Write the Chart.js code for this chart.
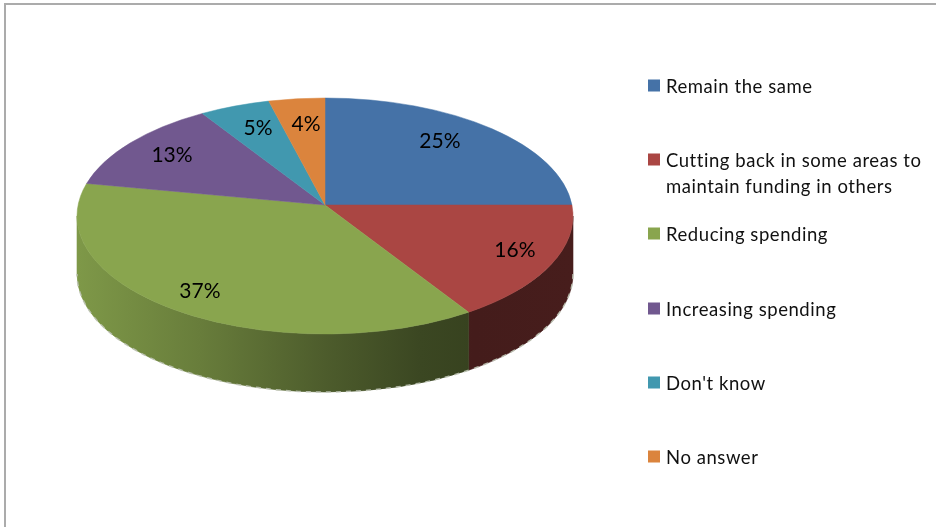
<!DOCTYPE html>
<html><head><meta charset="utf-8">
<style>html,body{margin:0;padding:0;background:#fff}canvas{display:block}</style>
<script src="https://cdn.jsdelivr.net/npm/chart.js@4"></script>
</head><body><canvas id="c" width="936" height="527"></canvas>
<script>
const categories = ["Remain the same", "Cutting back in some areas to maintain funding in others", "Reducing spending", "Increasing spending", "Don't know", "No answer"];
const values = [25, 16, 37, 13, 5, 4];
const colors = ["#4572A7", "#AA4643", "#89A54E", "#71588F", "#4198AF", "#DB843D"];
const legendLines = [["Remain the same"], ["Cutting back in some areas to", "maintain funding in others"], ["Reducing spending"], ["Increasing spending"], ["Don't know"], ["No answer"]];
const legendRows = [87, 161, 235, 310, 384, 458];
const labelRadial = [0.757, 0.83, 0.835, 0.784, 0.758, 0.745];
const labelTurn = [-4.6, -2.3, 0.4, 0.4, 1.0, 0.9];

// Perspective view of the pie: a circle seen through a projection, so the
// apex (CX, APEX_Y) sits above the centre of the drawn ellipse (CX, ELL_Y).
const CX = 325, APEX_Y = 205, ELL_Y = 216, RX = 248, RY = 118, DEPTH = 58;
const K = -22 / 236, A = RX * Math.sqrt(1 - K * K), B = RY * (1 - K * K);
const FONT = "Lato, 'Open Sans', sans-serif";
const shadeStops = [[78, .92], [200, .76], [325, .56], [420, .43], [475, .40], [572, .42]];

function rgb(hex) { return [1, 3, 5].map(i => parseInt(hex.substr(i, 2), 16)); }
function shaded(hex, k) { return "rgb(" + rgb(hex).map(v => Math.round(v * k)).join(",") + ")"; }
function project(t, r) {
  const u = r * Math.cos(t), v = r * Math.sin(t), w = 1 + K * v;
  return [CX + A * u / w, APEX_Y + B * v / w];
}
// Parameter on the drawn ellipse of the rim point for pie angle t.
function rimParam(t) {
  const p = project(t, 1);
  return Math.atan2((p[1] - ELL_Y) / RY, (p[0] - CX) / RX);
}

const pie3d = {
  id: "pie3d",
  beforeDraw(chart) {
    const c = chart.ctx;
    c.save();
    c.fillStyle = "#fff"; c.fillRect(0, 0, 936, 527);
    c.fillStyle = "#ababab";
    c.fillRect(5, 3, 931, 2);
    c.fillRect(4, 3, 2, 524);
    c.restore();
  },
  beforeDatasetDraw(chart) {
    const c = chart.ctx, arcs = chart.getDatasetMeta(0).data;
    const spans = arcs.map(el => {
      const a = rimParam(el.startAngle);
      let b = rimParam(el.endAngle);
      while (b <= a) b += 2 * Math.PI;
      return [a, b];
    });
    // side wall
    arcs.forEach((el, i) => {
      [0, 2 * Math.PI, -2 * Math.PI].forEach(off => {
        const a = Math.max(spans[i][0] + off, 0), b = Math.min(spans[i][1] + off, Math.PI);
        if (b <= a) return;
        const g = c.createLinearGradient(78, 0, 572, 0);
        shadeStops.forEach(s => g.addColorStop((s[0] - 78) / 494, shaded(colors[i], s[1])));
        c.save();
        c.beginPath();
        c.ellipse(CX, ELL_Y, RX, RY, 0, a, b);
        c.ellipse(CX, ELL_Y + DEPTH, RX, RY, 0, b, a, true);
        c.closePath();
        c.fillStyle = g; c.fill();
        c.strokeStyle = g; c.lineWidth = 0.6; c.stroke();
        c.beginPath();
        c.ellipse(CX, ELL_Y + DEPTH, RX, RY, 0, a, b);
        c.strokeStyle = "rgba(190,195,180,.9)";
        c.lineWidth = 1.5; c.setLineDash([5, 5]); c.stroke();
        c.restore();
      });
    });
    // top faces, taken from the angles the library computed
    arcs.forEach((el, i) => {
      const p = project(el.startAngle, 1);
      c.save();
      c.beginPath();
      c.moveTo(CX, APEX_Y);
      c.lineTo(p[0], p[1]);
      c.ellipse(CX, ELL_Y, RX, RY, 0, spans[i][0], spans[i][1]);
      c.closePath();
      c.fillStyle = colors[i]; c.fill();
      c.strokeStyle = colors[i]; c.lineWidth = 0.5; c.stroke();
      c.restore();
    });
    return false;
  },
  afterDatasetsDraw(chart) {
    const c = chart.ctx;
    c.save();
    c.fillStyle = "#000";
    c.font = "21px " + FONT;
    c.textAlign = "center"; c.textBaseline = "middle";
    chart.getDatasetMeta(0).data.forEach((el, i) => {
      const t = (el.startAngle + el.endAngle) / 2 + labelTurn[i] * Math.PI / 180;
      const p = project(t, labelRadial[i]);
      c.fillText(values[i] + "%", p[0], p[1]);
    });
    c.textAlign = "left"; c.textBaseline = "middle";
    c.font = "18.5px " + FONT;
    c.letterSpacing = "0.55px";
    legendLines.forEach((lines, i) => {
      c.fillStyle = colors[i];
      c.fillRect(648, legendRows[i] - 7.5, 12, 12);
      c.fillStyle = "#111";
      lines.forEach((ln, j) => c.fillText(ln, 666, legendRows[i] + j * 26));
    });
    c.restore();
  }
};

new Chart(document.getElementById("c"), {
  type: "pie",
  data: { labels: categories, datasets: [{ data: values, backgroundColor: colors, borderWidth: 0 }] },
  options: {
    responsive: false, animation: false, radius: RX,
    layout: { padding: { right: 286 } },
    plugins: { legend: { display: false }, tooltip: { enabled: false } }
  },
  plugins: [pie3d]
});
</script></body></html>
